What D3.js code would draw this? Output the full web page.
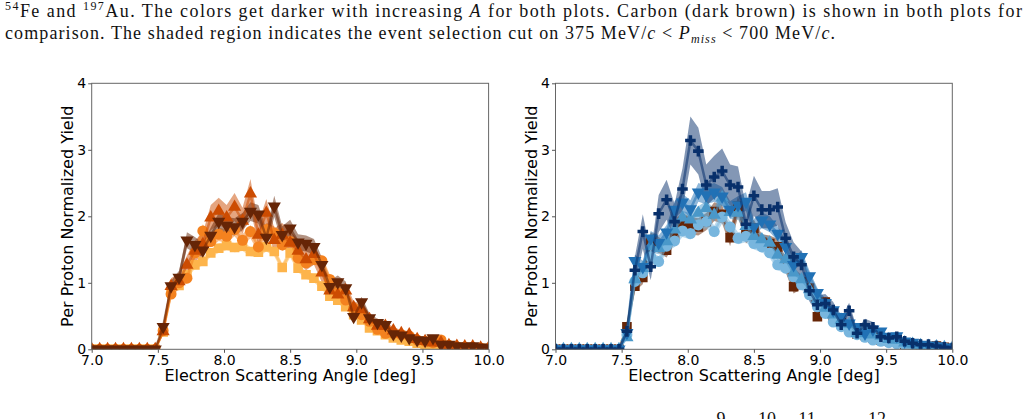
<!DOCTYPE html>
<html lang="en">
<head>
    <meta charset="UTF-8">
    <title>Per proton normalized yield vs electron scattering angle</title>
    <style>
        body { margin: 0; background: #fff; }
        svg { display: block; }
        .caption { font-family: "Liberation Serif", "DejaVu Serif", serif; font-size: 18px; fill: #111; }
        .tick text { font-family: "DejaVu Sans", sans-serif; font-size: 14px; fill: #000; }
        .tick line { stroke: #555; }
        .axis-label { font-family: "DejaVu Sans", sans-serif; font-size: 16px; fill: #000; }
    </style>
    <script src="https://d3js.org/d3.v7.min.js"></script>
</head>
<body>
    <svg width="1028" height="419"></svg>
    <script>
        // Bin centres of the electron scattering angle [deg]
        const angles = [7.00, 7.06, 7.12, 7.18, 7.24, 7.30, 7.36, 7.42, 7.48, 7.54,
            7.60, 7.66, 7.72, 7.78, 7.84, 7.90, 7.96, 8.02, 8.08, 8.14,
            8.20, 8.26, 8.32, 8.38, 8.44, 8.50, 8.56, 8.62, 8.68, 8.74,
            8.80, 8.86, 8.92, 8.98, 9.04, 9.10, 9.16, 9.22, 9.28, 9.34,
            9.40, 9.46, 9.52, 9.58, 9.64, 9.70, 9.76, 9.82, 9.88, 9.94, 10.00];

        const xTicks = [7.0, 7.5, 8.0, 8.5, 9.0, 9.5, 10.0];
        const yTicks = [0, 1, 2, 3, 4];

        // carbon, shown in both panels
        const carbon = [0, 0, 0, 0, 0, 0, 0, 0, 0, 0.34,
            0.95, 1.08, 1.64, 1.57, 1.49, 1.71, 1.92, 1.86, 1.84, 1.92,
            2.07, 2.03, 1.68, 2.15, 1.72, 1.82, 1.61, 1.59, 1.54, 1.27,
            0.94, 1.01, 0.92, 0.49, 0.71, 0.47, 0.40, 0.37, 0.23, 0.21,
            0.17, 0.14, 0.13, 0.17, 0.07, 0.07, 0.05, 0.04, 0.05, 0.03, 0.02];
        const carbonErr = [0, 0, 0, 0, 0, 0, 0, 0, 0, 0.05,
            0.08, 0.10, 0.12, 0.12, 0.11, 0.12, 0.13, 0.13, 0.13, 0.13,
            0.14, 0.14, 0.13, 0.16, 0.13, 0.13, 0.12, 0.12, 0.12, 0.11,
            0.10, 0.10, 0.10, 0.07, 0.08, 0.07, 0.06, 0.06, 0.05, 0.05,
            0.05, 0.04, 0.04, 0.05, 0.03, 0.03, 0.03, 0.02, 0.02, 0.02, 0.01];

        // left panel (orange, lightest to darkest)
        const leftSquares = [0, 0, 0, 0, 0, 0, 0, 0, 0, 0.26,
            0.86, 0.96, 1.12, 1.27, 1.32, 1.45, 1.52, 1.56, 1.53, 1.55,
            1.47, 1.46, 1.54, 1.47, 1.23, 1.45, 1.22, 1.12, 1.07, 0.95,
            0.80, 0.74, 0.64, 0.52, 0.44, 0.32, 0.28, 0.22, 0.17, 0.14,
            0.12, 0.09, 0.05, 0.07, 0.03, 0.04, 0.03, 0.02, 0.02, 0.01, 0.01];
        const leftSquaresErr = [0, 0, 0, 0, 0, 0, 0, 0, 0, 0.03,
            0.05, 0.05, 0.06, 0.06, 0.06, 0.06, 0.07, 0.07, 0.07, 0.07,
            0.07, 0.07, 0.07, 0.07, 0.06, 0.07, 0.06, 0.06, 0.06, 0.05,
            0.05, 0.05, 0.04, 0.04, 0.04, 0.03, 0.03, 0.03, 0.02, 0.02,
            0.02, 0.02, 0.01, 0.02, 0.01, 0.01, 0.01, 0.01, 0.01, 0.01, 0.01];

        const leftCircles = [0, 0, 0, 0, 0, 0, 0, 0, 0, 0.28,
            0.83, 1.00, 1.07, 1.45, 1.78, 1.62, 1.73, 1.70, 1.80, 1.64,
            1.77, 1.54, 1.80, 1.75, 1.57, 1.62, 1.37, 1.30, 1.35, 1.33,
            1.05, 0.85, 0.74, 0.62, 0.52, 0.42, 0.30, 0.24, 0.24, 0.22,
            0.20, 0.14, 0.12, 0.10, 0.14, 0.06, 0.04, 0.03, 0.03, 0.02, 0.01];
        const leftCirclesErr = [0, 0, 0, 0, 0, 0, 0, 0, 0, 0.04,
            0.07, 0.07, 0.08, 0.09, 0.10, 0.09, 0.10, 0.10, 0.10, 0.09,
            0.10, 0.09, 0.10, 0.10, 0.09, 0.09, 0.08, 0.08, 0.08, 0.08,
            0.07, 0.06, 0.06, 0.05, 0.05, 0.04, 0.04, 0.03, 0.03, 0.03,
            0.03, 0.02, 0.02, 0.02, 0.02, 0.01, 0.01, 0.01, 0.01, 0.01, 0.01];

        const leftUp = [0, 0, 0, 0, 0, 0, 0, 0, 0, 0.27,
            0.95, 1.02, 1.27, 1.48, 1.58, 1.98, 2.08, 1.98, 2.14, 1.93,
            2.34, 1.72, 2.05, 1.64, 1.72, 1.60, 1.48, 1.35, 1.43, 1.15,
            0.88, 0.82, 0.88, 0.63, 0.60, 0.45, 0.35, 0.35, 0.28, 0.24,
            0.22, 0.15, 0.12, 0.10, 0.10, 0.06, 0.05, 0.04, 0.04, 0.02, 0.02];
        const leftUpErr = [0, 0, 0, 0, 0, 0, 0, 0, 0, 0.06,
            0.12, 0.13, 0.14, 0.16, 0.17, 0.19, 0.20, 0.19, 0.21, 0.20,
            0.22, 0.18, 0.21, 0.18, 0.18, 0.17, 0.17, 0.16, 0.16, 0.14,
            0.13, 0.12, 0.12, 0.09, 0.09, 0.08, 0.07, 0.07, 0.05, 0.05,
            0.05, 0.04, 0.04, 0.04, 0.04, 0.03, 0.03, 0.03, 0.03, 0.02, 0.02];

        // right panel (blue, lightest to darkest)
        const rightCircles = [0, 0, 0, 0, 0, 0, 0, 0, 0, 0.22,
            1.02, 1.15, 1.39, 1.32, 1.55, 1.63, 1.78, 1.74, 1.87, 1.92,
            1.77, 1.99, 1.84, 1.67, 1.70, 1.59, 1.54, 1.45, 1.27, 1.22,
            1.09, 0.97, 0.82, 0.64, 0.54, 0.41, 0.34, 0.26, 0.22, 0.18,
            0.14, 0.12, 0.10, 0.08, 0.07, 0.05, 0.04, 0.03, 0.03, 0.02, 0.02];
        const rightCirclesErr = [0, 0, 0, 0, 0, 0, 0, 0, 0, 0.04,
            0.07, 0.08, 0.08, 0.08, 0.09, 0.09, 0.09, 0.09, 0.09, 0.10,
            0.09, 0.10, 0.09, 0.09, 0.09, 0.09, 0.08, 0.08, 0.08, 0.08,
            0.07, 0.07, 0.07, 0.05, 0.05, 0.04, 0.04, 0.04, 0.03, 0.03,
            0.03, 0.03, 0.02, 0.02, 0.02, 0.02, 0.01, 0.01, 0.01, 0.01, 0.01];

        const rightUp = [0, 0, 0, 0, 0, 0, 0, 0, 0, 0.18,
            1.05, 1.22, 1.55, 1.52, 1.62, 1.80, 1.98, 1.95, 2.05, 2.12,
            2.02, 2.28, 2.06, 2.05, 1.85, 1.70, 1.65, 1.60, 1.42, 1.35,
            1.15, 1.05, 0.90, 0.75, 0.62, 0.52, 0.44, 0.38, 0.24, 0.28,
            0.22, 0.20, 0.15, 0.14, 0.10, 0.08, 0.06, 0.05, 0.04, 0.03, 0.02];
        const rightUpErr = [0, 0, 0, 0, 0, 0, 0, 0, 0, 0.03,
            0.07, 0.08, 0.09, 0.09, 0.09, 0.10, 0.10, 0.10, 0.10, 0.11,
            0.10, 0.11, 0.10, 0.10, 0.10, 0.09, 0.09, 0.09, 0.08, 0.08,
            0.07, 0.07, 0.06, 0.06, 0.05, 0.05, 0.04, 0.04, 0.03, 0.03,
            0.03, 0.03, 0.02, 0.02, 0.02, 0.02, 0.01, 0.01, 0.01, 0.01, 0.01];

        const rightDown = [0, 0, 0, 0, 0, 0, 0, 0, 0, 0.25,
            1.33, 1.24, 1.67, 1.60, 1.76, 2.10, 2.21, 2.11, 2.36, 2.32,
            2.36, 2.30, 2.10, 2.17, 2.22, 1.84, 1.94, 1.88, 1.74, 1.54,
            1.27, 1.39, 1.10, 0.85, 0.70, 0.59, 0.49, 0.39, 0.34, 0.24,
            0.30, 0.27, 0.19, 0.20, 0.12, 0.10, 0.07, 0.06, 0.05, 0.03, 0.02];
        const rightDownErr = [0, 0, 0, 0, 0, 0, 0, 0, 0, 0.04,
            0.09, 0.09, 0.11, 0.11, 0.11, 0.13, 0.13, 0.13, 0.14, 0.14,
            0.14, 0.14, 0.13, 0.13, 0.14, 0.12, 0.12, 0.12, 0.11, 0.10,
            0.09, 0.10, 0.08, 0.07, 0.06, 0.05, 0.05, 0.04, 0.04, 0.03,
            0.03, 0.03, 0.02, 0.02, 0.02, 0.02, 0.01, 0.01, 0.01, 0.01, 0.01];

        const rightPlus = [0, 0, 0, 0, 0, 0, 0, 0, 0, 0.27,
            1.19, 1.77, 1.24, 2.04, 2.25, 1.92, 2.41, 3.14, 2.98, 2.47,
            2.59, 2.68, 2.47, 2.44, 1.88, 2.31, 2.10, 2.10, 2.14, 1.67,
            1.39, 1.27, 0.88, 0.67, 0.69, 0.59, 0.37, 0.58, 0.24, 0.37,
            0.33, 0.19, 0.17, 0.19, 0.12, 0.09, 0.07, 0.07, 0.05, 0.03, 0.02];
        const rightPlusErr = [0, 0, 0, 0, 0, 0, 0, 0, 0, 0.08,
            0.20, 0.26, 0.20, 0.28, 0.30, 0.27, 0.31, 0.36, 0.35, 0.31,
            0.32, 0.34, 0.31, 0.31, 0.27, 0.30, 0.28, 0.28, 0.28, 0.24,
            0.22, 0.20, 0.16, 0.14, 0.14, 0.12, 0.10, 0.12, 0.07, 0.09,
            0.08, 0.07, 0.05, 0.07, 0.04, 0.04, 0.03, 0.03, 0.03, 0.02, 0.01];

        const svg = d3.select("svg");

        // ---- caption text above the figure ----
        const cap1 = svg.append("text").attr("class", "caption")
            .attr("x", 5).attr("y", 17)
            .attr("textLength", 1017).attr("lengthAdjust", "spacing");
        cap1.append("tspan").attr("font-size", 12).attr("dy", -7).text("54");
        cap1.append("tspan").attr("dy", 7).text("Fe and ");
        cap1.append("tspan").attr("font-size", 12).attr("dy", -7).text("197");
        cap1.append("tspan").attr("dy", 7).text("Au.  The colors get darker with increasing ");
        cap1.append("tspan").attr("font-style", "italic").text("A");
        cap1.append("tspan").text(" for both plots.  Carbon (dark brown) is shown in both plots for");

        const cap2 = svg.append("text").attr("class", "caption")
            .attr("x", 5).attr("y", 39)
            .attr("textLength", 830).attr("lengthAdjust", "spacing");
        cap2.append("tspan").text("comparison. The shaded region indicates the event selection cut on 375 MeV/");
        cap2.append("tspan").attr("font-style", "italic").text("c");
        cap2.append("tspan").text(" < ");
        cap2.append("tspan").attr("font-style", "italic").text("P");
        cap2.append("tspan").attr("font-style", "italic").attr("font-size", 12).attr("dy", 4).text("miss");
        cap2.append("tspan").attr("dy", -4).text(" < 700 MeV/");
        cap2.append("tspan").attr("font-style", "italic").text("c");
        cap2.append("tspan").text(".");

        // tops of the superscripts of the next caption line (cut by the page edge, as in the source)
        const nextSup = [{ t: "9", x: 721 }, { t: "10", x: 767 }, { t: "11", x: 807 }, { t: "12", x: 877 }];
        svg.selectAll(".sup").data(nextSup).enter().append("text")
            .attr("class", "caption")
            .attr("font-size", 12)
            .attr("text-anchor", "middle")
            .attr("x", d => d.x).attr("y", 425)
            .text(d => d.t);

        // ---- one panel ----
        const plotTop = 83.3, plotBottom = 349.3;

        const symbols = {
            square: d3.symbol().type(d3.symbolSquare).size(92),
            circle: d3.symbol().type(d3.symbolCircle).size(95),
            up: d3.symbol().type(d3.symbolTriangle).size(75),
            down: d3.symbol().type(d3.symbolTriangle).size(75),
            plus: d3.symbol().type(d3.symbolCross).size(62)
        };

        function drawPanel(id, left, right, series) {
            const x = d3.scaleLinear().domain([7, 10]).range([left, right]);
            const y = d3.scaleLinear().domain([0, 4]).range([plotBottom, plotTop]);

            svg.append("clipPath").attr("id", id)
                .append("rect")
                .attr("x", left).attr("y", plotTop)
                .attr("width", right - left).attr("height", plotBottom - plotTop);

            const g = svg.append("g").attr("clip-path", `url(#${id})`);

            // error bands first (drawn under every line, like matplotlib collections)
            const area = d3.area()
                .x((d, i) => x(angles[i]))
                .y0(d => y(d.v - d.e))
                .y1(d => y(d.v + d.e));
            series.forEach(s => {
                const pts = s.values.map((v, i) => ({ v: v, e: s.errors[i] }));
                g.append("path")
                    .attr("d", area(pts))
                    .attr("fill", s.color)
                    .attr("fill-opacity", 0.5);
            });

            const line = d3.line().x((d, i) => x(angles[i])).y(d => y(d));
            series.forEach(s => {
                g.append("path")
                    .attr("d", line(s.values))
                    .attr("fill", "none")
                    .attr("stroke", s.color)
                    .attr("stroke-opacity", 0.55)
                    .attr("stroke-width", 2.5);

                g.append("g").selectAll("path")
                    .data(s.values)
                    .enter().append("path")
                    .attr("d", symbols[s.marker])
                    .attr("transform", (d, i) => {
                        const rot = s.marker === "down" ? " rotate(180)" : "";
                        return `translate(${x(angles[i])},${y(d)})${rot}`;
                    })
                    .attr("fill", s.color);
            });

            // frame
            svg.append("rect")
                .attr("x", left).attr("y", plotTop)
                .attr("width", right - left).attr("height", plotBottom - plotTop)
                .attr("fill", "none")
                .attr("stroke", "#666")
                .attr("stroke-width", 1);

            const xAxis = svg.append("g")
                .attr("transform", `translate(0,${plotBottom})`)
                .call(d3.axisBottom(x).tickValues(xTicks).tickFormat(d3.format(".1f"))
                    .tickSize(3.5).tickSizeOuter(0).tickPadding(2.5));
            xAxis.select(".domain").remove();

            const yAxis = svg.append("g")
                .attr("transform", `translate(${left},0)`)
                .call(d3.axisLeft(y).tickValues(yTicks).tickFormat(d3.format("d"))
                    .tickSize(3.5).tickSizeOuter(0).tickPadding(2));
            yAxis.select(".domain").remove();

            svg.append("text").attr("class", "axis-label")
                .attr("text-anchor", "middle")
                .attr("x", (left + right) / 2).attr("y", 381)
                .text("Electron Scattering Angle [deg]");

            svg.append("text").attr("class", "axis-label")
                .attr("text-anchor", "middle")
                .attr("transform", `translate(${left - 18.5},${(plotTop + plotBottom) / 2}) rotate(-90)`)
                .text("Per Proton Normalized Yield");
        }

        drawPanel("clipL", 91.7, 488.6, [
            { values: leftSquares, errors: leftSquaresErr, color: "#fdb44b", marker: "square" },
            { values: leftCircles, errors: leftCirclesErr, color: "#f4821f", marker: "circle" },
            { values: leftUp, errors: leftUpErr, color: "#cc4c02", marker: "up" },
            { values: carbon, errors: carbonErr, color: "#662506", marker: "down" }
        ]);

        drawPanel("clipR", 555.5, 952.3, [
            { values: carbon, errors: carbonErr, color: "#662506", marker: "square" },
            { values: rightCircles, errors: rightCirclesErr, color: "#78b6de", marker: "circle" },
            { values: rightUp, errors: rightUpErr, color: "#4a98c9", marker: "up" },
            { values: rightDown, errors: rightDownErr, color: "#2171b5", marker: "down" },
            { values: rightPlus, errors: rightPlusErr, color: "#08306b", marker: "plus" }
        ]);
    </script>
</body>
</html>
